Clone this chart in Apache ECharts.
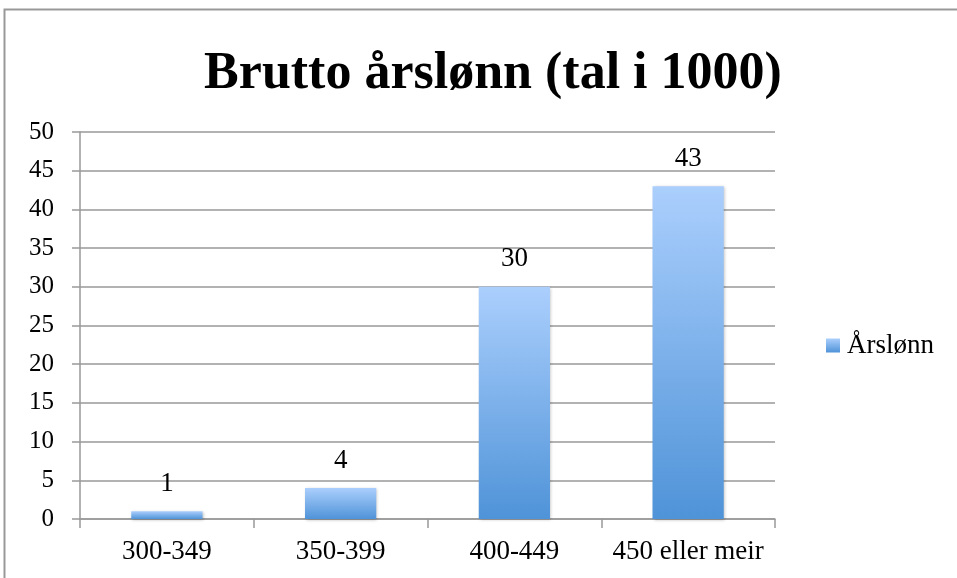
<!DOCTYPE html>
<html><head><meta charset="utf-8">
<script src="https://cdn.jsdelivr.net/npm/echarts@6/dist/echarts.min.js"></script>
<style>html,body{margin:0;padding:0;background:#fff}#c{width:957px;height:578px}</style>
</head><body><div id="c"></div>
<script>
const categories = ['300-349', '350-399', '400-449', '450 eller meir'];
const values = [1, 4, 30, 43];
const seriesName = 'Årslønn';
const titleText = 'Brutto årslønn (tal i 1000)';

const chart = echarts.init(document.getElementById('c'), null, {renderer: 'canvas'});
const serif = '"Liberation Serif", "DejaVu Serif", serif';
chart.setOption({
  animation: false,
  backgroundColor: '#fff',
  title: {
    text: titleText, left: 488, top: 44, textAlign: 'center',
    textStyle: {fontFamily: serif, fontWeight: 'bold', fontSize: 52, color: '#000'}
  },
  graphic: [{
    type: 'rect', shape: {x: 4.5, y: 9.5, width: 1100, height: 1100},
    style: {fill: 'none', stroke: '#999', lineWidth: 2}, silent: true
  }],
  legend: {
    data: [{name: seriesName, icon: 'rect'}], left: 821, top: 327, itemWidth: 14, itemHeight: 14, itemGap: 6,
    textStyle: {fontFamily: serif, fontSize: 27, color: '#000', padding: [0, 0, 0, 2]}
  },
  grid: {left: 80, right: 182, top: 132, bottom: 59, containLabel: false},
  xAxis: {
    type: 'category', data: categories,
    axisLine: {lineStyle: {color: '#999', width: 1.5}},
    axisTick: {show: true, interval: 0, length: 9, lineStyle: {color: '#999', width: 1.5}},
    axisLabel: {interval: 0, margin: 19, fontFamily: serif, fontSize: 27, color: '#000'}
  },
  yAxis: {
    type: 'value', min: 0, max: 50, interval: 5,
    axisLine: {show: true, lineStyle: {color: '#999', width: 1.5}},
    axisTick: {show: true, length: 8, lineStyle: {color: '#999', width: 1.5}},
    splitLine: {lineStyle: {color: '#999', width: 1.5}},
    axisLabel: {margin: 26, fontFamily: serif, fontSize: 25, color: '#000'}
  },
  series: [{
    name: seriesName, type: 'bar', data: values, barWidth: '41%',
    itemStyle: {
      color: new echarts.graphic.LinearGradient(0, 0, 0, 1, [
        {offset: 0, color: '#abcffd'}, {offset: 1, color: '#4f93d8'}
      ]),
      shadowBlur: 3, shadowColor: 'rgba(0,0,0,0.25)', shadowOffsetX: 1, shadowOffsetY: 1
    },
    label: {show: true, position: 'top', distance: 14, fontFamily: serif, fontSize: 27, color: '#000'}
  }]
});
</script></body></html>
